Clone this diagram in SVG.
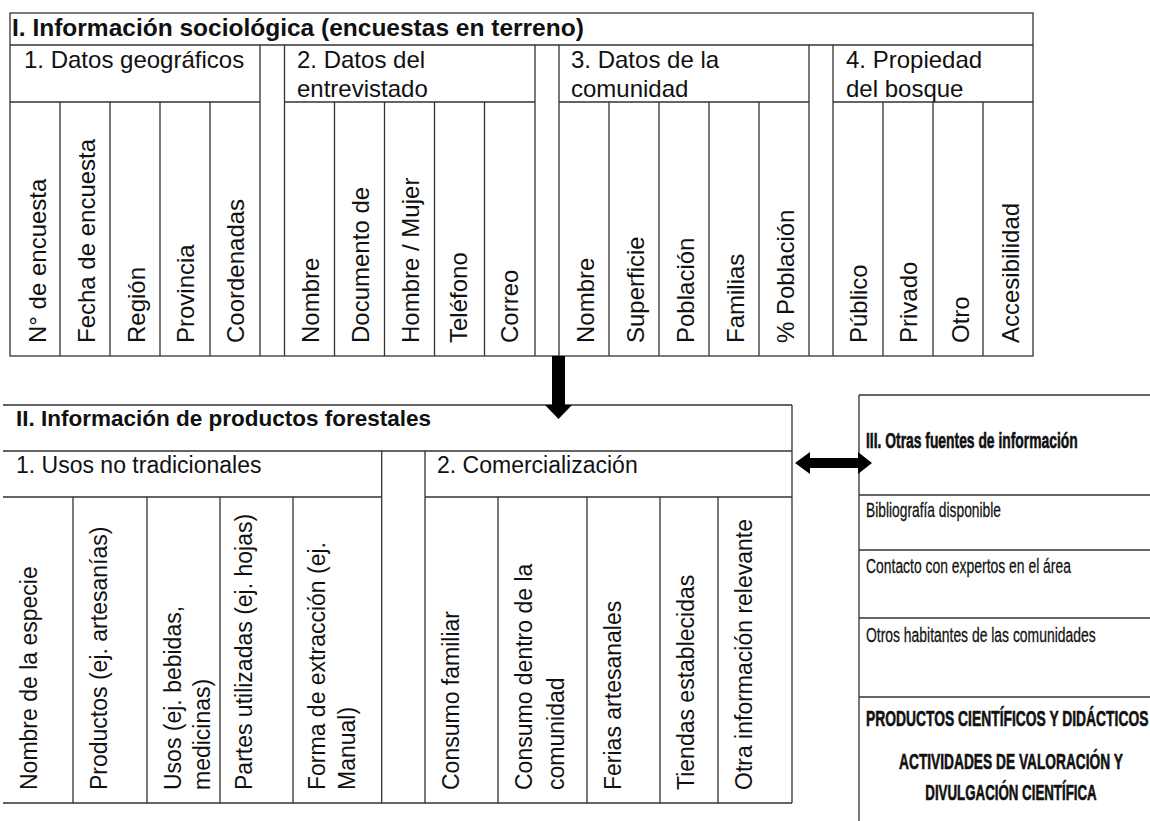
<svg xmlns="http://www.w3.org/2000/svg" width="1150" height="821" viewBox="0 0 1150 821">
<style>
  .ln{stroke:#333;stroke-width:1.3;fill:none}
  text{font-family:"Liberation Sans",Arial,sans-serif;fill:#111}
  .t1{font-size:24.5px;font-weight:bold}
  .h1{font-size:24px}
  .v1{font-size:24px}
  .t2{font-size:22.5px;font-weight:bold}
  .h2{font-size:23px}
  .v2{font-size:23px}
  .rb{font-size:22px;font-weight:bold;stroke:#111;stroke-width:0.6}
  .rn{font-size:20px;stroke:#111;stroke-width:0.25}
  .mid{text-anchor:middle}
  .arrow{fill:#000;stroke:none}
</style>
<rect width="1150" height="821" fill="#fff"/>

<g id="node-informacion-sociologica">
  <rect class="ln" x="10" y="13" width="1023" height="343"/>
  <path class="ln" d="M10 45H1033 M10 102H260 M284.5 102H535 M559 102H809 M833 102H1033
    M260 45V356 M284.5 45V356 M535 45V356 M559 45V356 M809 45V356 M833 45V356
    M60 102V356 M110 102V356 M160 102V356 M210 102V356
    M334.5 102V356 M384.5 102V356 M434.5 102V356 M484.5 102V356
    M609 102V356 M659 102V356 M709 102V356 M759 102V356
    M883 102V356 M933 102V356 M983 102V356"/>
  <text class="t1" x="12" y="36">I. Información sociológica (encuestas en terreno)</text>
  <text class="h1" x="24" y="68">1. Datos geográficos</text>
  <text class="h1" x="297" y="68">2. Datos del</text>
  <text class="h1" x="297" y="97">entrevistado</text>
  <text class="h1" x="571" y="68">3. Datos de la</text>
  <text class="h1" x="571" y="97">comunidad</text>
  <text class="h1" x="846" y="68">4. Propiedad</text>
  <text class="h1" x="846" y="97">del bosque</text>
  <text class="v1" transform="translate(46,343) rotate(-90)">N° de encuesta</text>
  <text class="v1" transform="translate(95,343) rotate(-90)">Fecha de encuesta</text>
  <text class="v1" transform="translate(145,343) rotate(-90)">Región</text>
  <text class="v1" transform="translate(194,343) rotate(-90)">Provincia</text>
  <text class="v1" transform="translate(244,343) rotate(-90)">Coordenadas</text>
  <text class="v1" transform="translate(319,343) rotate(-90)">Nombre</text>
  <text class="v1" transform="translate(369,343) rotate(-90)">Documento de</text>
  <text class="v1" transform="translate(419,343) rotate(-90)">Hombre / Mujer</text>
  <text class="v1" transform="translate(467,343) rotate(-90)">Teléfono</text>
  <text class="v1" transform="translate(518,343) rotate(-90)">Correo</text>
  <text class="v1" transform="translate(594,343) rotate(-90)">Nombre</text>
  <text class="v1" transform="translate(644,343) rotate(-90)">Superficie</text>
  <text class="v1" transform="translate(694,343) rotate(-90)">Población</text>
  <text class="v1" transform="translate(744,343) rotate(-90)">Familias</text>
  <text class="v1" transform="translate(794,343) rotate(-90)">% Población</text>
  <text class="v1" transform="translate(867,343) rotate(-90)">Público</text>
  <text class="v1" transform="translate(917,343) rotate(-90)">Privado</text>
  <text class="v1" transform="translate(969,343) rotate(-90)">Otro</text>
  <text class="v1" transform="translate(1019,343) rotate(-90)">Accesibilidad</text>
</g>

<g id="node-productos-forestales">
  <path class="ln" d="M3 405H792 M3 451H792 M3 803H792 M792 405V803
    M3 497H381.7 M425 497H792 M381.7 451V803 M425 451V803
    M73 497V803 M147 497V803 M220 497V803 M293 497V803
    M498 497V803 M587 497V803 M660 497V803 M718 497V803"/>
  <text class="t2" x="16" y="426">II. Información de productos forestales</text>
  <text class="h2" x="16" y="473">1. Usos no tradicionales</text>
  <text class="h2" x="437" y="473">2. Comercialización</text>
  <text class="v2" transform="translate(37,790) rotate(-90)">Nombre de la especie</text>
  <text class="v2" transform="translate(107,790) rotate(-90)">Productos (ej. artesanías)</text>
  <text class="v2" transform="translate(181,790) rotate(-90)">Usos (ej. bebidas,</text>
  <text class="v2" transform="translate(210,790) rotate(-90)">medicinas)</text>
  <text class="v2" transform="translate(252,790) rotate(-90)">Partes utilizadas (ej. hojas)</text>
  <text class="v2" transform="translate(325,790) rotate(-90)">Forma de extracción (ej.</text>
  <text class="v2" transform="translate(355,790) rotate(-90)">Manual)</text>
  <text class="v2" transform="translate(459,790) rotate(-90)">Consumo familiar</text>
  <text class="v2" transform="translate(532,790) rotate(-90)">Consumo dentro de la</text>
  <text class="v2" transform="translate(564,790) rotate(-90)">comunidad</text>
  <text class="v2" transform="translate(621,790) rotate(-90)">Ferias artesanales</text>
  <text class="v2" transform="translate(694,790) rotate(-90)">Tiendas establecidas</text>
  <text class="v2" transform="translate(752,790) rotate(-90)">Otra información relevante</text>
</g>

<g id="node-otras-fuentes">
  <path class="ln" d="M859 395V821 M859 395H1150 M859 495H1150 M859 550H1150 M859 618H1150 M859 697H1150"/>
  <text class="rb" transform="translate(866,448) scale(0.63,1)">III. Otras fuentes de información</text>
  <text class="rn" transform="translate(866,517) scale(0.69,1)">Bibliografía disponible</text>
  <text class="rn" transform="translate(866,573) scale(0.696,1)">Contacto con expertos en el área</text>
  <text class="rn" transform="translate(866,642) scale(0.696,1)">Otros habitantes de las comunidades</text>
  <text class="rb" transform="translate(866,726) scale(0.63,1)">PRODUCTOS CIENTÍFICOS Y DIDÁCTICOS</text>
  <text class="rb mid" transform="translate(1011,769) scale(0.625,1)">ACTIVIDADES DE VALORACIÓN Y</text>
  <text class="rb mid" transform="translate(1011,800) scale(0.605,1)">DIVULGACIÓN CIENTÍFICA</text>
</g>

<g id="connectors">
  <polygon class="arrow" points="552,356 565,356 565,405 572,405 558.5,419 545,405 552,405"/>
  <polygon class="arrow" points="795,463 810,452 810,458 858,458 858,452 872,463 858,474 858,468 810,468 810,474"/>
</g>
</svg>
